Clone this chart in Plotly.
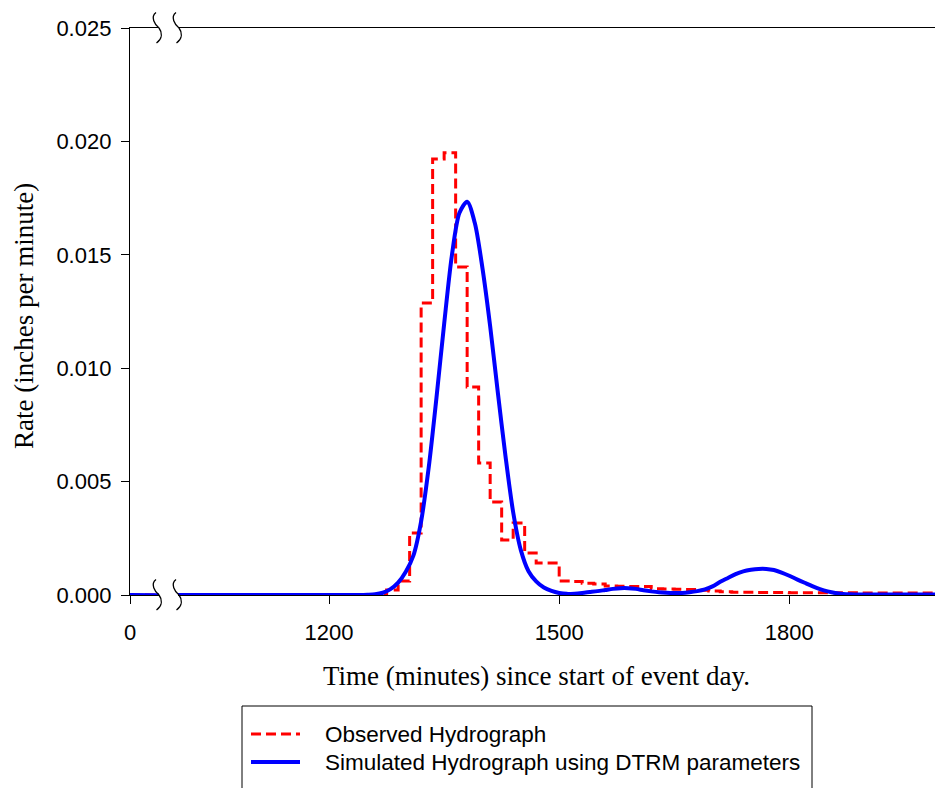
import plotly.graph_objects as go

# Observed hydrograph: 15-minute step values (inches per minute)
obs_time = [0, 1275, 1290, 1305, 1320, 1335, 1350, 1365, 1380, 1395, 1410, 1425,
            1440, 1455, 1470, 1485, 1500, 1515, 1530, 1545, 1560, 1575, 1590, 1605,
            1620, 1635, 1650, 1665, 1680, 1695, 1710, 1725, 1740, 1755, 1770, 1785,
            1800, 1815, 1830, 1845, 1860, 1875, 1890, 1905, 1920, 1935, 1950, 1965,
            1980, 1995]
obs_rate = [0, 0.00022, 0.00062, 0.00273, 0.01287, 0.01922, 0.01950, 0.01446,
            0.00917, 0.00582, 0.00410, 0.00243, 0.00317, 0.00185, 0.00141, 0.00141,
            0.00062, 0.00060, 0.00052, 0.00048, 0.00040, 0.00039, 0.00038, 0.00037,
            0.00028, 0.00026, 0.00025, 0.00024, 0.00021, 0.00018, 0.00014, 0.00012,
            0.00012, 0.00011, 0.00011, 0.00011, 0.00010, 0.00010, 0.00010, 0.00010,
            0.00010, 0.00010, 0.00009, 0.00009, 0.00009, 0.00009, 0.00009, 0.00009,
            0.00009, 0.00009]

# Simulated hydrograph (DTRM parameters)
sim_time = [0, 1000, 1100, 1200, 1240, 1250, 1260, 1270, 1280, 1290, 1300, 1310,
            1320, 1330, 1340, 1350, 1360, 1370, 1380, 1390, 1400, 1410, 1420, 1430,
            1440, 1450, 1460, 1470, 1480, 1490, 1500, 1510, 1520, 1530, 1540, 1550,
            1560, 1570, 1580, 1590, 1600, 1610, 1620, 1630, 1640, 1650, 1660, 1670,
            1680, 1690, 1700, 1710, 1720, 1730, 1740, 1750, 1760, 1770, 1780, 1790,
            1800, 1810, 1820, 1830, 1840, 1850, 1860, 1870, 1880, 1890, 1900, 1950,
            1990]
sim_rate = [0, 0, 0, 0, 0, 0.00001, 0.00003, 0.00010, 0.00026, 0.00055, 0.00103,
            0.00175, 0.00325, 0.00565, 0.00870, 0.01195, 0.01495, 0.01685, 0.01734,
            0.01640, 0.01440, 0.01185, 0.00893, 0.00612, 0.00365, 0.00198, 0.00105,
            0.00060, 0.00033, 0.00018, 0.00009, 0.00005, 0.00006, 0.00009, 0.00013,
            0.00017, 0.00022, 0.00027, 0.00030, 0.00030, 0.00027, 0.00021, 0.00016,
            0.00012, 0.00010, 0.00009, 0.00009, 0.00012, 0.00017, 0.00025, 0.00038,
            0.00058, 0.00075, 0.00092, 0.00104, 0.00111, 0.00115, 0.00115, 0.00110,
            0.00099, 0.00085, 0.00069, 0.00054, 0.00039, 0.00026, 0.00016, 0.00009,
            0.00005, 0.00003, 0.00002, 0.00002, 0.00002, 0.00002]

x_ticks = [1200, 1500, 1800]
y_ticks = [0.0, 0.005, 0.010, 0.015, 0.020, 0.025]
y_tick_text = ["0.000", "0.005", "0.010", "0.015", "0.020", "0.025"]

series_names = ["Observed Hydrograph", "Simulated Hydrograph using DTRM parameters"]

W, H = 935, 788
L, R, T, B = 130, 0, 28, 193
PW, PH = W - L - R, H - T - B

SANS = "Liberation Sans, Arial, sans-serif"
SERIF = "Liberation Serif, Times New Roman, serif"
RED, BLUE = "#FF0000", "#0000FF"
RED_DASH = "10px,5px"


def px(x):
    return (x - L) / PW


def py(y):
    return (T + PH - y) / PH


fig = go.Figure()

# two x segments: short one near zero, long one for the event
for xa in ("x", "x2"):
    fig.add_trace(go.Scatter(
        x=obs_time, y=obs_rate, xaxis=xa, yaxis="y", mode="lines",
        line=dict(color=RED, width=3, dash=RED_DASH, shape="hv"),
        name=series_names[0], showlegend=False))
for xa in ("x", "x2"):
    fig.add_trace(go.Scatter(
        x=sim_time, y=sim_rate, xaxis=xa, yaxis="y", mode="lines",
        line=dict(color=BLUE, width=4, shape="spline", smoothing=0.8),
        name=series_names[1], showlegend=False))

axis_common = dict(showline=True, linecolor="black", linewidth=1.3, mirror=True,
                   ticks="outside", ticklen=8, tickwidth=1.3, tickcolor="black",
                   showgrid=False, zeroline=False, ticklabelstandoff=9,
                   tickfont=dict(family=SANS, size=22, color="black"))

left_end, right_start = 159, 178
fig.update_layout(
    width=W, height=H,
    margin=dict(l=L, r=R, t=T, b=B),
    paper_bgcolor="white", plot_bgcolor="white",
    xaxis=dict(domain=[0, px(left_end)], range=[0, 38], tickvals=[0],
               anchor="y", **axis_common),
    xaxis2=dict(domain=[px(right_start), 1], range=[1003, 1990],
                tickvals=x_ticks, anchor="y", **axis_common),
    yaxis=dict(range=[0, 0.025], tickvals=y_ticks, ticktext=y_tick_text,
               anchor="x", showline=True, linecolor="black", linewidth=1.3,
               ticks="outside", ticklen=8, tickwidth=1.3, tickcolor="black",
               showgrid=False, zeroline=False, ticklabelstandoff=5,
               tickfont=dict(family=SANS, size=22, color="black")),
    showlegend=False,
)

# axis titles
fig.add_annotation(text="Time (minutes) since start of event day.",
                   x=px(536), y=py(676), xref="paper", yref="paper",
                   xanchor="center", yanchor="middle", showarrow=False,
                   font=dict(family=SERIF, size=27, color="black"))
fig.add_annotation(text="Rate (inches per minute)", textangle=-90,
                   x=px(24), y=py(316), xref="paper", yref="paper",
                   xanchor="center", yanchor="middle", showarrow=False,
                   font=dict(family=SERIF, size=27, color="black"))

# legend box below the plot
fig.add_shape(type="rect", xref="paper", yref="paper",
              x0=px(242), x1=px(812), y0=py(706), y1=py(800),
              line=dict(color="black", width=1), fillcolor="white")
legend_rows = [(734, RED, 3, RED_DASH), (762, BLUE, 4, "solid")]
for name, (ry, col, lw, dash) in zip(series_names, legend_rows):
    fig.add_shape(type="line", xref="paper", yref="paper",
                  x0=px(251), x1=px(300), y0=py(ry), y1=py(ry),
                  line=dict(color=col, width=lw, dash=dash))
    fig.add_annotation(text=name, x=px(323), y=py(ry), xref="paper",
                       yref="paper", xanchor="left", yanchor="middle",
                       showarrow=False,
                       font=dict(family=SANS, size=22.5, color="black"))


# axis break marks on the bottom and top frame lines
def break_mark(cx, cy):
    pts = [(cx - 3, cy - 15.5), (cx - 9, cy - 11), (cx - 4, cy - 3), (cx, cy),
           (cx + 3, cy + 4), (cx + 4, cy + 10), (cx - 2.5, cy + 15)]
    p = [(px(a), py(b)) for a, b in pts]
    return (f"M {p[0][0]},{p[0][1]} C {p[1][0]},{p[1][1]} {p[2][0]},{p[2][1]} "
            f"{p[3][0]},{p[3][1]} C {p[4][0]},{p[4][1]} {p[5][0]},{p[5][1]} "
            f"{p[6][0]},{p[6][1]}")


for cy in (T, T + PH):
    for cx in (left_end, right_start + 1):
        fig.add_shape(type="path", path=break_mark(cx, cy), xref="paper",
                      yref="paper", line=dict(color="black", width=1.3))

fig.write_html("out.html")
